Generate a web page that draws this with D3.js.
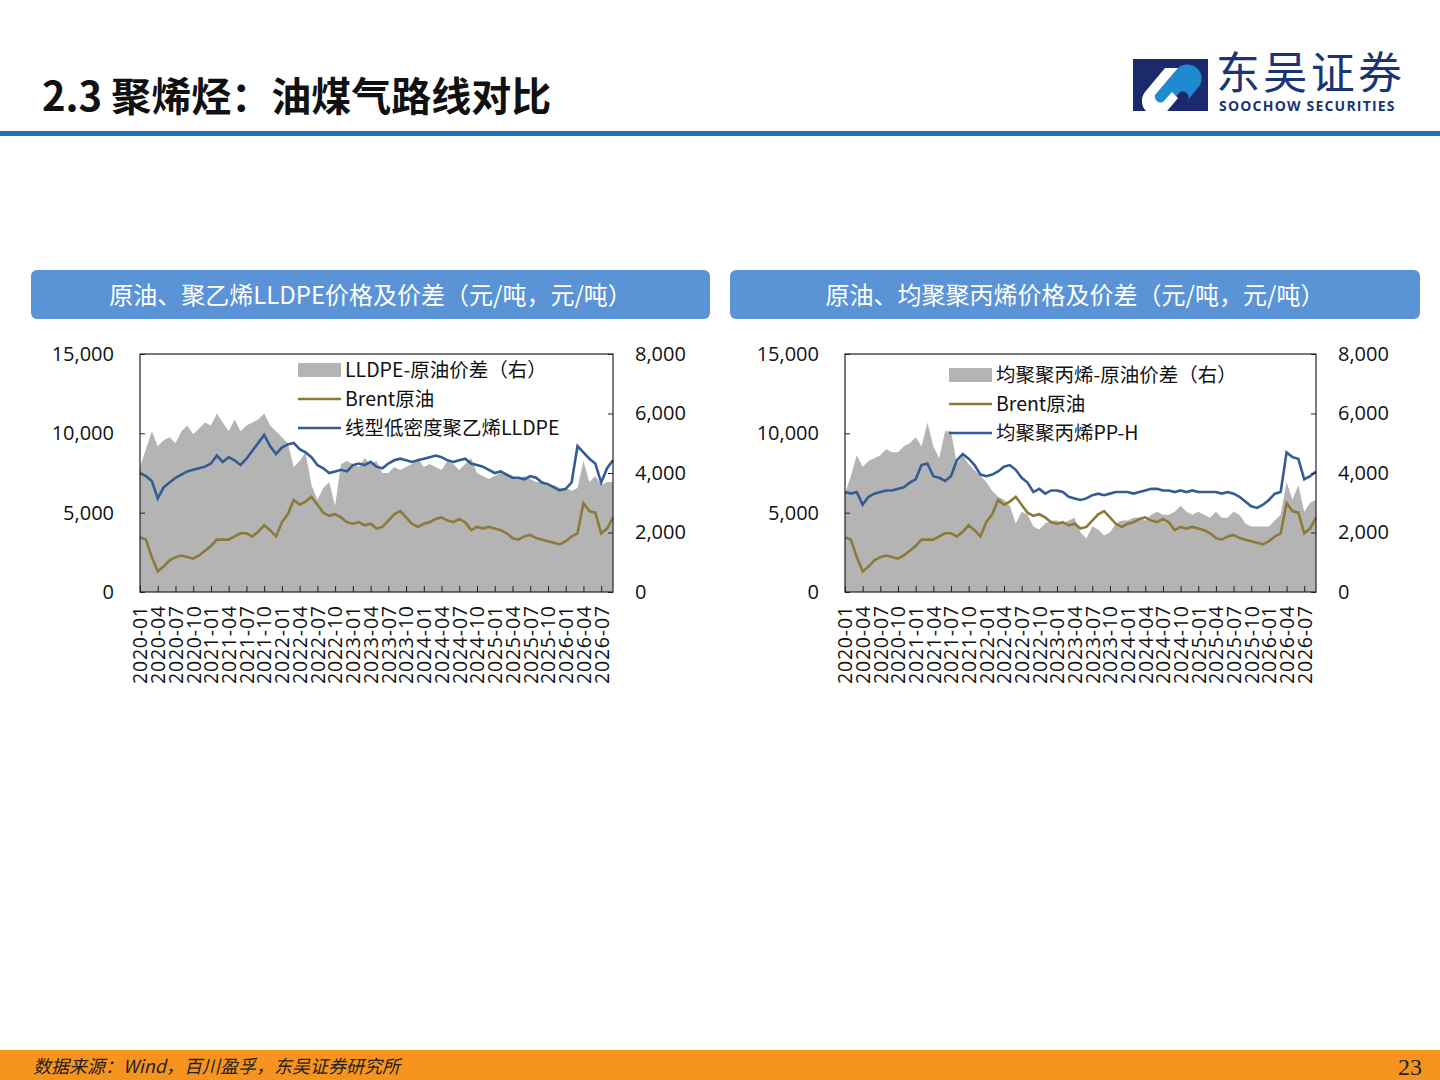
<!DOCTYPE html>
<html><head><meta charset="utf-8">
<script src="https://cdn.jsdelivr.net/npm/d3@7"></script>
<style>body{margin:0;background:#fff;}svg{display:block;font-family:"Noto Sans CJK SC","Noto Sans",sans-serif;}</style>
</head><body><svg id="c" width="1440" height="1080"></svg>
<script>
const monthLabels=[];for(let y=2020;y<=2026;y++)for(const m of ["01","04","07","10"]){if(y===2026&&m==="10")continue;monthLabels.push(y+"-"+m);}
const leftTicks=[0,5000,10000,15000];
const rightTicks=[0,2000,4000,6000,8000];
const brent=[3450,3300,2200,1300,1600,2000,2200,2300,2200,2100,2300,2600,
2900,3300,3300,3300,3500,3700,3700,3500,3800,4200,3900,3500,
4400,4900,5800,5500,5700,6000,5500,5000,4800,4900,4700,4400,
4300,4400,4200,4300,4000,4100,4500,4900,5100,4700,4300,4100,
4300,4400,4600,4700,4500,4400,4600,4400,3900,4100,4000,4100,
4000,3900,3700,3400,3300,3500,3600,3400,3300,3200,3100,3000,
3200,3500,3700,5600,5100,5000,3700,4000,4700];
const lldpe=[7500,7300,7000,5900,6600,6900,7200,7400,7600,7700,7800,7900,
8100,8600,8200,8500,8300,8000,8400,8900,9400,9900,9200,8700,
9100,9300,9400,9000,8800,8500,8000,7800,7500,7600,7700,7600,
8000,8100,8000,8200,7900,7800,8100,8300,8400,8300,8200,8300,
8400,8500,8600,8500,8300,8200,8300,8400,8100,8000,7900,7700,
7500,7600,7400,7200,7200,7100,7300,7200,6900,6800,6600,6400,
6500,6900,9200,8800,8400,8100,6900,7800,8300];
const lldpeSpread=[4200,4800,5400,4900,5100,5200,5000,5400,5600,5300,5500,5700,
5600,6000,5700,5400,5800,5400,5600,5700,5800,6000,5600,5400,
5200,5000,4200,4400,4700,3600,3100,3500,3700,2900,4300,4400,
4300,4200,4500,4300,4400,4000,4000,4200,4100,4200,4300,4500,
4200,4300,4200,4100,4400,4300,4100,4300,4500,4000,3900,3800,
3900,4000,4000,3900,3800,3900,3800,3700,3700,3600,3600,3500,
3500,3400,3500,4400,3700,3900,3600,3700,3700];
const pp=[6300,6200,6300,5500,6000,6200,6300,6400,6400,6500,6600,6900,
7100,8000,8100,7300,7200,7000,7300,8300,8700,8400,8000,7400,
7300,7400,7600,7900,8000,7700,7200,6900,6300,6500,6200,6400,
6400,6300,6000,5900,5800,5900,6100,6200,6100,6200,6300,6300,
6300,6200,6300,6400,6500,6500,6400,6400,6300,6400,6300,6400,
6300,6300,6300,6300,6200,6300,6200,6000,5700,5400,5300,5500,
5800,6200,6300,8800,8500,8400,7100,7300,7600];
const ppSpread=[3300,3900,4600,4200,4400,4500,4600,4800,4700,4700,4900,5000,
5200,4900,5700,4900,4500,5400,5400,4300,4600,4300,4100,3900,
3700,3400,3200,3100,2900,2300,2700,2600,2200,2100,2300,2400,
2400,2300,2400,2500,2000,1800,2200,2100,1900,2000,2300,2400,
2400,2500,2500,2400,2600,2700,2600,2600,2700,2900,2700,2600,
2700,2600,2500,2700,2500,2500,2700,2600,2300,2200,2200,2200,
2200,2400,2600,3700,3100,3600,2700,3000,3100];

const svg=d3.select("#c");
svg.append("text").attr("x",42).attr("y",111).attr("font-size",40).attr("font-weight",700).attr("fill","#111").text("2.3 聚烯烃：油煤气路线对比");
svg.append("rect").attr("x",0).attr("y",131).attr("width",1440).attr("height",5).attr("fill","#1f6fc0");
const lg=svg.append("g");
lg.append("rect").attr("x",1133).attr("y",59).attr("width",75).attr("height",52).attr("fill","#1b2a6b");
lg.append("path").attr("d","M1150,100 L1175,72 A14,14 0 0 1 1200,85 L1188,100 A6,6 0 0 0 1180,92 L1168,106 Z").attr("fill","#1f8ad0");
lg.append("path").attr("d","M1145,92 L1165,68 L1178,68 L1155,95 A6,6 0 0 0 1163,102 L1172,92 L1178,98 L1168,110 A14,14 0 0 1 1145,92 Z").attr("fill","#fff");
lg.append("text").attr("x",1216).attr("y",89).attr("font-size",44).attr("textLength",186).attr("fill","#1a3474").text("东吴证券");
lg.append("text").attr("x",1219).attr("y",111).attr("font-size",14).attr("letter-spacing",1.2).attr("font-weight",700).attr("fill","#1a3474").attr("font-family","'Open Sans',sans-serif").text("SOOCHOW SECURITIES");
svg.append("rect").attr("x",0).attr("y",1050).attr("width",1440).attr("height",30).attr("fill","#f7941d");
svg.append("text").attr("x",33).attr("y",1073).attr("font-size",18).attr("font-style","italic").attr("fill","#222").text("数据来源：Wind，百川盈孚，东吴证券研究所");
svg.append("text").attr("x",1422).attr("y",1075).attr("text-anchor","end").attr("font-size",24).attr("font-family","'Liberation Serif',serif").attr("fill","#222").text("23");

function chart(o){
  svg.append("rect").attr("x",o.px).attr("y",270).attr("width",o.pw).attr("height",49).attr("rx",6).attr("fill","#5b93d7");
  svg.append("text").attr("x",o.px+o.pw/2).attr("y",304).attr("text-anchor","middle").attr("font-size",24).attr("fill","#fff").text(o.title);
  const x=d3.scaleLinear().domain([0,80]).range([o.x0,o.x1]);
  const yl=d3.scaleLinear().domain([0,15000]).range([592,354]);
  const yr=d3.scaleLinear().domain([0,8000]).range([592,354]);
  const idx=d3.range(brent.length);
  const g=svg.append("g");
  g.append("path").datum(idx).attr("fill","#b4b4b4")
   .attr("d",d3.area().x(i=>x(i)).y0(yr(0)).y1(i=>yr(o.spread[i])));
  g.append("path").datum(idx).attr("fill","none").attr("stroke","#8c7a3a").attr("stroke-width",2.6)
   .attr("d",d3.line().x(i=>x(i)).y(i=>yl(brent[i])));
  g.append("path").datum(idx).attr("fill","none").attr("stroke","#355c92").attr("stroke-width",2.6)
   .attr("d",d3.line().x(i=>x(i)).y(i=>yl(o.prod[i])));
  g.append("rect").attr("x",o.x0).attr("y",354).attr("width",o.x1-o.x0).attr("height",238).attr("fill","none").attr("stroke","#222").attr("stroke-width",1.2);
  const al=g.append("g").attr("transform",`translate(${o.x0},0)`).call(d3.axisLeft(yl).tickValues(leftTicks).tickFormat(d3.format(",")).tickSize(-5).tickPadding(26));
  const ar=g.append("g").attr("transform",`translate(${o.x1},0)`).call(d3.axisRight(yr).tickValues(rightTicks).tickFormat(d3.format(",")).tickSize(-5).tickPadding(22));
  const ticksM=monthLabels.map((_,i)=>i*3);
  const ab=g.append("g").attr("transform","translate(0,592)").call(d3.axisBottom(x).tickValues(ticksM).tickFormat(i=>monthLabels[i/3]).tickSize(-6).tickPadding(6));
  [al,ar,ab].forEach(a=>{a.select(".domain").remove();a.selectAll("line").attr("stroke","#222");a.selectAll("text").attr("font-size",20).attr("fill","#111").attr("font-family","'Open Sans','Noto Sans',sans-serif");});
  ab.selectAll("text").attr("font-size",19.5).attr("textLength",78).attr("transform","rotate(-90)").attr("text-anchor","end").attr("dy","0.35em").attr("y",0).attr("x",-14);
  const L=g.append("g").attr("font-size",19.5).attr("fill","#111");
  L.append("rect").attr("x",o.lx).attr("y",o.ly-7).attr("width",43).attr("height",14).attr("fill","#b4b4b4");
  L.append("line").attr("x1",o.lx).attr("x2",o.lx+43).attr("y1",o.ly+29).attr("y2",o.ly+29).attr("stroke","#8c7a3a").attr("stroke-width",2.6);
  L.append("line").attr("x1",o.lx).attr("x2",o.lx+43).attr("y1",o.ly+58).attr("y2",o.ly+58).attr("stroke","#355c92").attr("stroke-width",2.6);
  o.leg.forEach((t,i)=>L.append("text").attr("x",o.lx+47).attr("y",o.ly+7+i*29).text(t));
}
chart({px:31,pw:679,x0:140,x1:613,title:"原油、聚乙烯LLDPE价格及价差（元/吨，元/吨）",prod:lldpe,spread:lldpeSpread,lx:298,ly:370,
  leg:["LLDPE-原油价差（右）","Brent原油","线型低密度聚乙烯LLDPE"]});
chart({px:730,pw:690,x0:845,x1:1316,title:"原油、均聚聚丙烯价格及价差（元/吨，元/吨）",prod:pp,spread:ppSpread,lx:949,ly:375,
  leg:["均聚聚丙烯-原油价差（右）","Brent原油","均聚聚丙烯PP-H"]});
</script></body></html>
